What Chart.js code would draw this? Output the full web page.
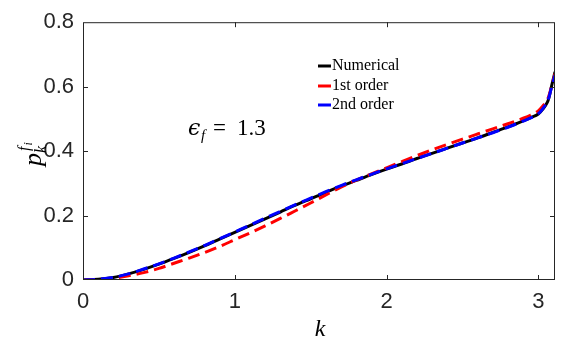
<!DOCTYPE html>
<html><head><meta charset="utf-8">
<script src="https://cdn.jsdelivr.net/npm/chart.js@4.4.0/dist/chart.umd.min.js"></script>
<style>html,body{margin:0;padding:0;background:#fff;}#wrap{width:565px;height:348px;}</style>
</head><body><div id="wrap"><canvas id="c" width="565" height="348"></canvas></div>
<script>
const kValues = [0,0.1,0.2,0.3,0.4,0.5,0.6,0.7,0.8,0.9,1.0,1.1,1.2,1.3,1.4,1.5,1.6,1.7,1.8,1.9,2.0,2.1,2.2,2.3,2.4,2.5,2.6,2.7,2.8,2.9,2.95,3.0,3.03,3.06,3.07,3.09,3.11];
const numerical = [0,0.002,0.008,0.019,0.033,0.049,0.067,0.086,0.106,0.127,0.148,0.169,0.190,0.211,0.232,0.252,0.272,0.291,0.309,0.327,0.344,0.360,0.377,0.393,0.409,0.425,0.441,0.458,0.475,0.494,0.504,0.515,0.530,0.552,0.565,0.607,0.646];
const firstOrder = [0,0.001,0.005,0.013,0.023,0.036,0.052,0.068,0.085,0.104,0.125,0.146,0.168,0.191,0.215,0.239,0.264,0.288,0.310,0.329,0.348,0.367,0.386,0.404,0.421,0.437,0.453,0.469,0.485,0.502,0.512,0.525,0.540,0.560,0.572,0.605,0.640];
const secondOrder = [0,0.002,0.008,0.019,0.034,0.050,0.068,0.087,0.107,0.128,0.149,0.170,0.192,0.213,0.234,0.254,0.274,0.293,0.311,0.328,0.345,0.361,0.377,0.393,0.409,0.425,0.441,0.457,0.474,0.493,0.503,0.516,0.532,0.555,0.567,0.603,0.636];
const xTicks = [0,1,2,3];
const yTicks = [0,0.2,0.4,0.6,0.8];
const seriesNames = ['Numerical','1st order','2nd order'];

const axisColor = '#262626';
const toPts = arr => arr.map((v,i)=>({x:kValues[i], y:v}));

const boxPlugin = {
  id:'box',
  afterDraw(chart){
    const {ctx, chartArea:a, scales:{x,y}} = chart;
    ctx.save();
    ctx.strokeStyle = axisColor; ctx.lineWidth = 1;
    ctx.strokeRect(a.left+0.5, a.top+0.5, a.right-a.left-1, a.bottom-a.top-1);
    const tl = 5;
    ctx.beginPath();
    xTicks.forEach(v=>{ if(v===0) return; const px=Math.round(x.getPixelForValue(v))+0.5;
      ctx.moveTo(px,a.bottom); ctx.lineTo(px,a.bottom-tl);
      ctx.moveTo(px,a.top); ctx.lineTo(px,a.top+tl);});
    yTicks.forEach(v=>{ if(v===0||v===0.8) return; const py=Math.round(y.getPixelForValue(v))+0.5;
      ctx.moveTo(a.left,py); ctx.lineTo(a.left+tl,py);
      ctx.moveTo(a.right,py); ctx.lineTo(a.right-tl,py);});
    ctx.stroke();
    // legend
    const cols = ['#000000','#ff0000','#0000ff'];
    const ly = [66,86,105];
    ctx.font = '16px "Liberation Serif"';
    ctx.textBaseline='middle'; ctx.fillStyle='#000';
    seriesNames.forEach((n,i)=>{
      ctx.strokeStyle=cols[i]; ctx.lineWidth=3;
      ctx.beginPath(); ctx.moveTo(318,ly[i]); ctx.lineTo(331,ly[i]); ctx.stroke();
      ctx.fillText(n,332,ly[i]);
    });
    // epsilon annotation
    ctx.textBaseline='alphabetic';
    ctx.font = 'italic 22px "DejaVu Serif"';
    ctx.fillText('\u03F5',188,135);
    ctx.font = 'italic 15px "Liberation Serif"';
    ctx.fillText('f',201,140);
    ctx.font = '23px "Liberation Serif"';
    ctx.fillText('=',213,135);
    ctx.fillText('1.3',237,135);
    // x label
    ctx.font = 'italic 24px "Liberation Serif"';
    ctx.textAlign='center';
    ctx.fillText('k',320,336);
    // y label
    ctx.save();
    ctx.translate(41,166); ctx.rotate(-Math.PI/2);
    ctx.textAlign='left';
    ctx.font = 'italic 26px "Liberation Serif"';
    ctx.fillText('p',0,0);
    const pw = ctx.measureText('p').width;
    ctx.font = 'italic 16px "Liberation Serif"';
    ctx.fillText('k',pw,5);
    ctx.fillText('f',pw+2,-12);
    const fw = ctx.measureText('f').width;
    ctx.font = 'italic 12px "Liberation Serif"';
    ctx.fillText('i',pw+2+fw+1,-9);
    ctx.restore();
    ctx.restore();
  }
};

new Chart(document.getElementById('c'), {
  type:'line',
  data:{datasets:[
    {label:seriesNames[0], data:toPts(numerical), borderColor:'#000000', borderWidth:3, pointRadius:0, cubicInterpolationMode:'monotone', order:3},
    {label:seriesNames[1], data:toPts(firstOrder), borderColor:'#ff0000', borderWidth:3, borderDash:[12,6], pointRadius:0, cubicInterpolationMode:'monotone', order:2},
    {label:seriesNames[2], data:toPts(secondOrder), borderColor:'#0000ff', borderWidth:3, borderDash:[12,6], pointRadius:0, cubicInterpolationMode:'monotone', order:1}
  ]},
  options:{
    responsive:false, animation:false, events:[],
    layout:{padding:{left:0,right:10,top:12,bottom:0}},
    plugins:{legend:{display:false}, tooltip:{enabled:false}},
    scales:{
      x:{type:'linear', min:0, max:3.11,
        afterBuildTicks(s){ s.ticks = xTicks.map(v=>({value:v})); },
        afterFit(s){ s.height = 68; },
        grid:{display:false, drawTicks:false}, border:{display:false},
        ticks:{color:axisColor, font:{family:'"Liberation Sans"', size:22}, padding:9, maxRotation:0,
          callback:v=>String(v)}},
      y:{type:'linear', min:0, max:0.8,
        afterBuildTicks(s){ s.ticks = yTicks.map(v=>({value:v})); },
        afterFit(s){ s.width = 83; },
        grid:{display:false, drawTicks:false}, border:{display:false},
        ticks:{color:axisColor, font:{family:'"Liberation Sans"', size:22}, padding:9,
          callback:v=>String(Math.round(v*10)/10)}}
    }
  },
  plugins:[boxPlugin]
});
</script></body></html>
